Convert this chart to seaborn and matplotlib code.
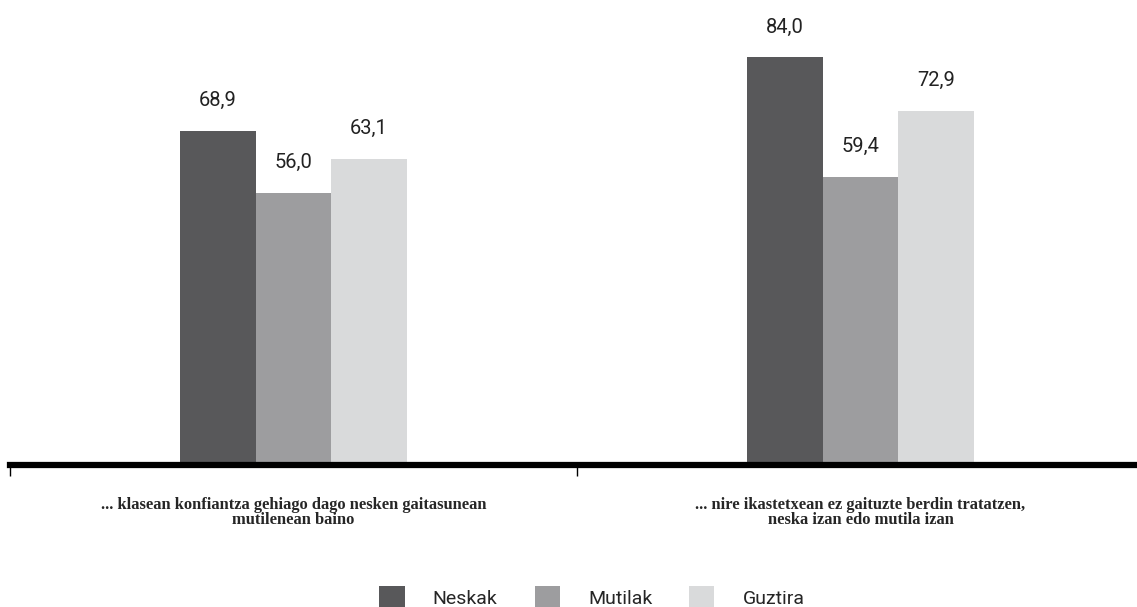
import numpy as np
import pandas as pd
import seaborn as sns
import matplotlib.pyplot as plt
from matplotlib.patches import Patch

sns.set_theme(style="white")

# data
categories = ["... klasean konfiantza gehiago dago nesken gaitasunean\nmutilenean baino",
              "... nire ikastetxean ez gaituzte berdin tratatzen,\nneska izan edo mutila izan"]
groups = ["Neskak", "Mutilak", "Guztira"]
neskak = [68.9, 84.0]
mutilak = [56.0, 59.4]
guztira = [63.1, 72.9]
colors = ["#58585a", "#9d9d9f", "#d9dadb"]

df = pd.DataFrame({
    "cat": categories * 3,
    "group": np.repeat(groups, 2),
    "value": neskak + mutilak + guztira,
})

num_font = ["Roboto", "DejaVu Sans"]

fig = plt.figure(figsize=(11.37, 6.07), dpi=100)
ax = fig.add_axes([10 / 1137, 142 / 607, 1134 / 1137, 465 / 607])

sns.barplot(data=df, x="cat", y="value", hue="group", palette=colors,
            width=0.4, gap=0, saturation=1, legend=False, linewidth=0, ax=ax)

for cont in ax.containers:
    labels = [f"{v:.1f}".replace(".", ",") for v in cont.datavalues]
    ax.bar_label(cont, labels=labels, padding=15, fontsize=14.5,
                 family=num_font, color="#222222")

ax.set_ylim(0, 95.8)
ax.set_xlim(-0.5, 1.5)
ax.set_xlabel("")
ax.set_ylabel("")
ax.set_yticks([])

for s in ["top", "right", "left"]:
    ax.spines[s].set_visible(False)
ax.spines["bottom"].set_linewidth(4.5)
ax.spines["bottom"].set_color("black")

ax.set_xticks([0, 1])
ax.set_xticklabels(categories, family="Liberation Serif", fontweight="bold",
                   fontsize=11.9, linespacing=0.9)
ax.tick_params(axis="x", which="major", length=0, pad=23)
ax.set_xticks([-0.5, 0.5], minor=True)
ax.tick_params(axis="x", which="minor", direction="out", length=8, width=1,
               color="black", bottom=True)

handles = [Patch(facecolor=c, edgecolor="none") for c in colors]
fig.legend(handles, groups, loc="center", bbox_to_anchor=(592 / 1137, 1 - 597 / 607),
           ncol=3, frameon=False, handlelength=1.3, handleheight=1.3,
           handletextpad=1.45, columnspacing=1.9,
           prop={"family": num_font, "size": 14})

fig.savefig("out.png", dpi=100)
